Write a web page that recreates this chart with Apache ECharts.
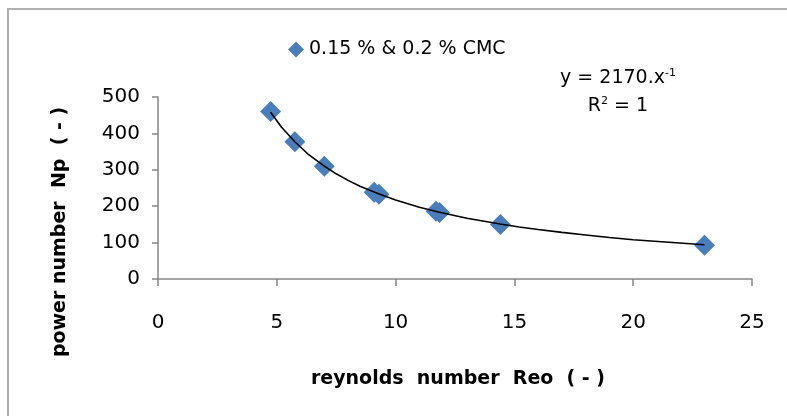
<!DOCTYPE html>
<html><head><meta charset="utf-8">
<script src="https://cdn.jsdelivr.net/npm/echarts@6/dist/echarts.min.js"></script>
<style>html,body{margin:0;padding:0;background:#fff}#c{width:787px;height:416px}</style>
</head><body><div id="c"></div>
<script>
// Measured data (reynolds number Reo, power number Np)
var reo = [4.74, 5.76, 7.0, 9.1, 9.3, 11.7, 11.85, 14.41, 23.0];
var np  = [460, 377, 310, 238, 233, 186, 183, 150, 93];
// Trend line points
var trendX = [4.74, 5.2, 5.76, 6.3, 7.0, 7.5, 8.0, 8.5, 9.2, 10.0, 11.0, 11.8, 13.0, 14.4, 15.2, 16.0, 17.0, 18.0, 19.0, 20.0, 21.5, 23.0];
var trendY = [458, 417, 377, 344, 310, 289, 271, 255, 236, 217, 197, 184, 167, 151, 143, 136, 128, 121, 114, 108, 101, 94];
var xTicks = [0, 5, 10, 15, 20, 25];
var yTicks = [0, 100, 200, 300, 400, 500];
var seriesName = '0.15 % & 0.2 % CMC';

var font = 'DejaVu Sans';
var chart = echarts.init(document.getElementById('c'));
chart.setOption({
  backgroundColor: '#fff',
  animation: false,
  grid: {left: 158, right: 35, top: 97, bottom: 137},
  legend: {
    data: [{name: seriesName, icon: 'diamond'}],
    left: 283, top: 35, itemWidth: 16, itemHeight: 16, itemGap: 2,
    textStyle: {fontFamily: font, fontSize: 19, color: '#000'}
  },
  xAxis: {
    type: 'value', min: xTicks[0], max: xTicks[xTicks.length-1], interval: 5,
    axisLine: {lineStyle: {color: '#868686', width: 1.5}},
    axisTick: {show: true, length: 7, lineStyle: {color: '#868686', width: 1.5}},
    axisLabel: {fontFamily: font, fontSize: 20, color: '#000', margin: 34},
    splitLine: {show: false}
  },
  yAxis: {
    type: 'value', min: yTicks[0], max: yTicks[yTicks.length-1], interval: 100,
    axisLine: {show: true, lineStyle: {color: '#868686', width: 1.5}},
    axisTick: {show: true, length: 6, lineStyle: {color: '#868686', width: 1.5}},
    axisLabel: {fontFamily: font, fontSize: 20, color: '#000', margin: 18},
    splitLine: {show: false}
  },
  graphic: [
    {type: 'rect', shape: {x: 8, y: 9, width: 800, height: 420}, style: {fill: 'none', stroke: '#b0b0b0', lineWidth: 2}, silent: true},
    {type: 'text', x: 60, y: 232, rotation: Math.PI/2, style: {text: 'power number  Np  ( - )', font: '600 19px "DejaVu Sans"', fill: '#000', align: 'center', verticalAlign: 'middle'}},
    {type: 'text', x: 458, y: 379, style: {text: 'reynolds  number  Reo  ( - )', font: '600 19px "DejaVu Sans"', fill: '#000', align: 'center', verticalAlign: 'middle'}},
    {type: 'text', x: 618, y: 78, style: {rich: {n: {font: '19px "DejaVu Sans"', fill: '#000'}, s: {font: '11px "DejaVu Sans"', fill: '#000', verticalAlign: 'top', padding: [0,0,10,0]}}, text: '{n|y = 2170.x}{s|-1}', align: 'center', verticalAlign: 'middle'}},
    {type: 'text', x: 618, y: 106, style: {rich: {n: {font: '19px "DejaVu Sans"', fill: '#000'}, s: {font: '11px "DejaVu Sans"', fill: '#000', padding: [0,0,10,0]}}, text: '{n|R}{s|2}{n| = 1}', align: 'center', verticalAlign: 'middle'}}
  ],
  series: [
    {
      name: 'trend', type: 'line', data: trendX.map(function(x,i){return [x, trendY[i]];}),
      smooth: false, symbol: 'none', z: 3,
      lineStyle: {color: '#000', width: 1.6}
    },
    {
      name: seriesName, type: 'scatter', symbol: 'diamond', symbolSize: 21, z: 2,
      itemStyle: {color: '#4A7EBB', opacity: 1},
      data: reo.map(function(x,i){return [x, np[i]];})
    }
  ]
});
</script></body></html>
